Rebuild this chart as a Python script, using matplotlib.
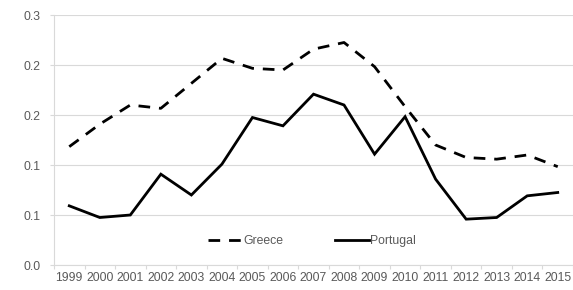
import matplotlib
matplotlib.use("Agg")
import matplotlib.pyplot as plt
from matplotlib.ticker import FixedLocator, FormatStrFormatter

years = [str(y) for y in range(1999, 2016)]
greece = [0.142, 0.169, 0.192, 0.188, 0.218, 0.248, 0.236, 0.234, 0.259,
          0.267, 0.238, 0.190, 0.144, 0.129, 0.127, 0.132, 0.118]
portugal = [0.071, 0.057, 0.060, 0.109, 0.084, 0.121, 0.177, 0.167, 0.205,
            0.192, 0.133, 0.178, 0.103, 0.055, 0.057, 0.083, 0.087]
y_ticks = [0.0, 0.06, 0.12, 0.18, 0.24, 0.30]

plt.rcParams['font.family'] = ['Liberation Sans', 'DejaVu Sans']
text_col = '#595959'
grid_col = '#d9d9d9'
fs = 8.8

fig = plt.figure(figsize=(5.73, 2.9), dpi=100)
ax = fig.add_axes([54/573, 25/290, 519/573, 250/290])

x = list(range(len(years)))
ax.plot(x, greece, color='black', lw=2.0, linestyle=(0, (4.2, 3.2)),
        dash_capstyle='butt', label='Greece')
ax.plot(x, portugal, color='black', lw=2.0, solid_joinstyle='miter',
        label='Portugal')

ax.set_xlim(-0.5, len(years) - 0.5)
ax.set_ylim(0, 0.3)
ax.yaxis.set_major_locator(FixedLocator(y_ticks))
ax.yaxis.set_major_formatter(FormatStrFormatter('%.1f'))
ax.set_xticks(x)
ax.set_xticklabels(years)
ax.set_xticks([i - 0.5 for i in range(len(years) + 1)], minor=True)
ax.tick_params(axis='x', which='major', length=0, pad=4.7, labelsize=fs, labelcolor=text_col)
ax.tick_params(axis='x', which='minor', length=3, color=grid_col, width=0.8)
ax.tick_params(axis='y', length=3, color=grid_col, width=0.8, pad=6.5,
               labelsize=fs, labelcolor=text_col)
ax.grid(axis='y', color=grid_col, lw=0.8)
ax.set_axisbelow(True)
for s in ['top', 'right']:
    ax.spines[s].set_visible(False)
ax.spines['left'].set_color(grid_col)
ax.spines['bottom'].set_color(grid_col)
ax.spines['left'].set_linewidth(0.8)
ax.spines['bottom'].set_linewidth(0.8)

leg = ax.legend(loc='center', bbox_to_anchor=(0.497, 0.096), ncol=2, frameon=False,
                fontsize=fs, handlelength=2.8, handletextpad=0.1, columnspacing=4.2)
for t in leg.get_texts():
    t.set_color(text_col)

fig.savefig('out.png', dpi=100)
